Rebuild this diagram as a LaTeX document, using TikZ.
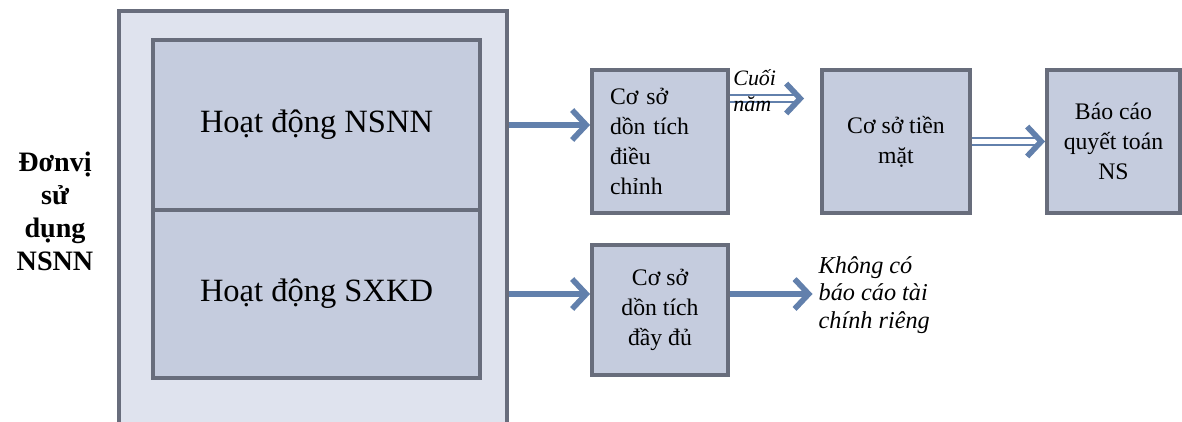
\documentclass[tikz,border=0pt]{standalone}
\usepackage{fontspec}
\setmainfont{Liberation Serif}
\usetikzlibrary{arrows.meta,positioning,calc}
\definecolor{outerfill}{RGB}{223,227,238}
\definecolor{innerfill}{RGB}{197,204,222}
\definecolor{bordc}{RGB}{104,109,124}
\definecolor{arrowc}{RGB}{98,128,172}
\begin{document}
\begin{tikzpicture}[
  box/.style={draw=bordc,fill=innerfill,line width=2.2pt,inner sep=0pt},
  arr/.style={draw=arrowc,line width=3.2pt,-{Straight Barb[length=8pt,width=17pt]}},
  dblarr/.style={draw=arrowc,line width=1.2pt,double=white,double distance=2.4pt,-{Straight Barb[length=8pt,width=17pt,line width=3.2pt]}},
  txt/.style={font=\fontsize{13.5}{17}\selectfont}]
  \clip (0,0) rectangle (23.64,-8.42);
  \fill[white] (0,0) rectangle (23.64,-8.42);

  % left part
  \node[font=\bfseries\fontsize{16}{18.8}\selectfont,align=center] (dv) at (1.1,-4.22) {Đơnvị\\sử\\dụng\\NSNN};
  \node[draw=bordc,fill=outerfill,line width=2.2pt,minimum width=7.76cm,minimum height=8.4cm,inner sep=0pt] (dvsd) at (6.26,-4.42) {};
  \node[box,minimum width=6.54cm,minimum height=3.4cm,font=\fontsize{18.5}{22}\selectfont] (hd1) at (6.33,-2.5) {Hoạt động NSNN};
  \node[box,minimum width=6.54cm,minimum height=3.36cm,font=\fontsize{18.5}{22}\selectfont] (hd2) at (6.33,-5.88) {Hoạt động SXKD};

  % boxes
  \node[box,minimum width=2.72cm,minimum height=2.86cm,txt,align=left,text width=2.0cm] (dtdc) at (13.2,-2.83) {Cơ sở\\dồn tích\\điều\\chỉnh};
  \node[box,minimum width=2.96cm,minimum height=2.86cm,txt,align=center] (tm) at (17.92,-2.83) {Cơ sở tiền\\mặt};
  \node[box,minimum width=2.66cm,minimum height=2.86cm,txt,align=center] (bc) at (22.27,-2.83) {Báo cáo\\quyết toán\\NS};
  \node[box,minimum width=2.72cm,minimum height=2.6cm,txt,align=center] (dtdd) at (13.2,-6.2) {Cơ sở\\dồn tích\\đầy đủ};
  \node[font=\itshape\fontsize{13.8}{15.8}\selectfont,align=left,anchor=west] (kc) at (16.25,-5.9) {Không có\\báo cáo tài\\chính riêng};

  % arrows
  \draw[arr] (dvsd.east |- hd1) -- (dtdc.west |- hd1);
  \draw[arr] (dvsd.east |- hd2) -- (dtdd.west |- hd2);
  \draw[arr] (dtdd.east |- hd2) -- (kc.west |- hd2);
  \coordinate (cn) at ($(tm.west)+(-0.32,0.86)$);
  \draw[dblarr] (dtdc.east |- cn) -- (cn);
  \node[font=\itshape\fontsize{12.5}{15}\selectfont,align=left,anchor=north west,inner sep=0pt] (cuoinam) at (14.66,-1.38) {Cuối\\năm};
  \draw[dblarr] (tm.east) -- (bc.west);
\end{tikzpicture}
\end{document}
